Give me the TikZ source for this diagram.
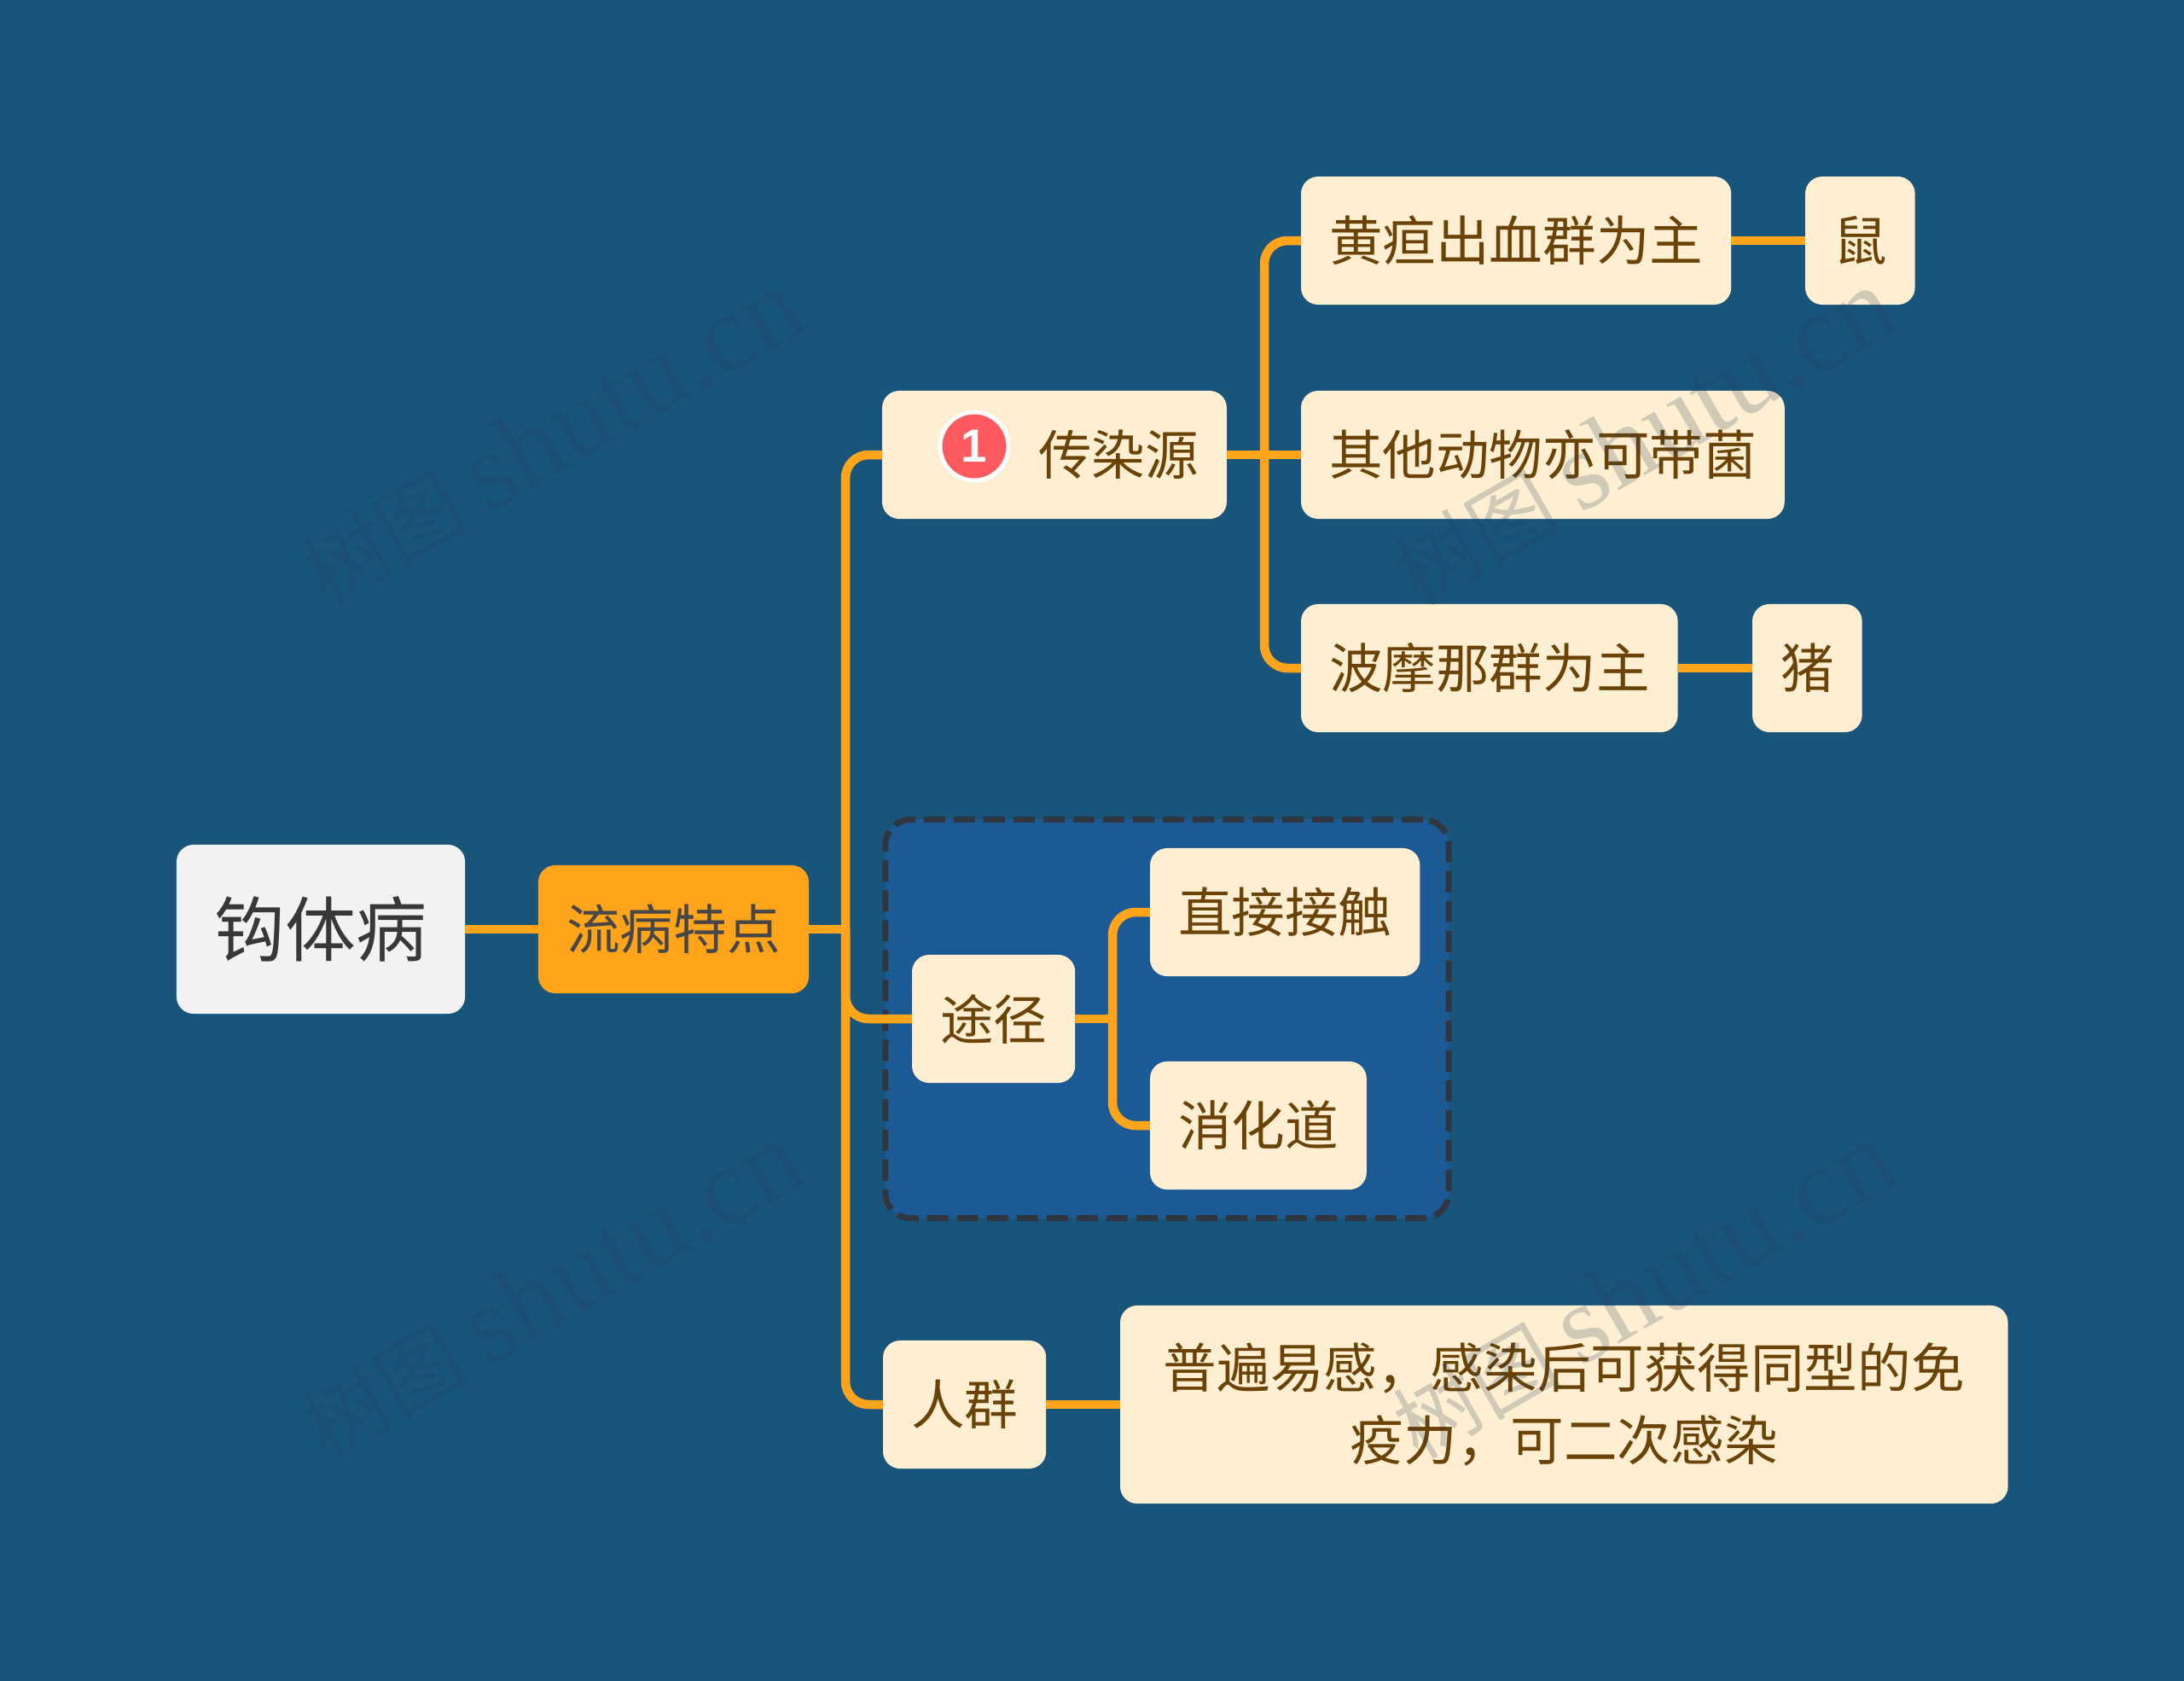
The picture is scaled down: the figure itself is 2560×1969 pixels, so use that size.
\documentclass[tikz,border=0pt]{standalone}
\usepackage{fontspec}
\setmainfont{Noto Sans CJK SC}
\newfontfamily\markfont{Liberation Serif}
\newfontfamily\badgefont{Liberation Sans}
\definecolor{pagebg}{HTML}{19557B}
\definecolor{groupbg}{HTML}{1B5A94}
\definecolor{groupline}{HTML}{2F3640}
\definecolor{leafbg}{HTML}{FEEFD3}
\definecolor{leaftext}{HTML}{6B4307}
\definecolor{linkcol}{HTML}{FFA41B}
\definecolor{rootbg}{HTML}{F2F2F2}
\definecolor{badgecol}{HTML}{FF5A5F}
\definecolor{markcol}{HTML}{1F3550}
\begin{document}
\begin{tikzpicture}[x=0.01cm,y=-0.01cm,
leaf/.style={rectangle,rounded corners=0.2cm,fill=leafbg,text=leaftext,anchor=west,inner xsep=0.33cm,inner ysep=0pt,outer sep=0pt,minimum height=1.5cm,align=center,font=\fontsize{17.8}{24.2}\selectfont},
link/.style={draw=linkcol,line width=0.105cm},
elbow/.style={link,rounded corners=0.27cm},
wmark/.style={rotate=30,text=markcol,opacity=0.2,inner sep=0pt,font=\fontsize{28}{36}\selectfont}]
\useasboundingbox (0,0) rectangle (2560,1969);
\fill[pagebg] (-5,-5) rectangle (2565,1974);
\node[rectangle,rounded corners=0.3cm,fill=groupbg,draw=groupline,line width=0.07cm,dash pattern=on 0.25cm off 0.1cm,outer sep=0pt,inner sep=0pt,minimum width=6.6cm,minimum height=4.67cm] (group) at (1368,1194) {};
\node[rectangle,rounded corners=0.2cm,fill=rootbg,text=black!78,outer sep=0pt,inner sep=0pt,minimum width=3.38cm,minimum height=1.98cm,font=\fontsize{23.6}{28}\selectfont] (root) at (376,1089) {钩体病};
\node[leaf,fill=linkcol,text=black!72,minimum width=3.17cm,inner xsep=0pt,anchor=center] (liubing) at (789.5,1089) {流病特点};
\node[leaf] (chuanran) at (1034,533) {\hspace{1.5cm}传染源};
\node[circle,fill=badgecol,draw=white,line width=0.05cm,inner sep=0pt,minimum size=0.8cm,text=white,font=\badgefont\bfseries\fontsize{15.5}{16}\selectfont] (badge) at (1142,523) {1};
\node[leaf] (huangdan) at (1525,282) {黄疸出血群为主};
\node[leaf] (shu) at (2116,282) {鼠};
\node[leaf] (qita) at (1525,533) {其他动物亦可带菌};
\node[leaf] (bomona) at (1525,783) {波摩那群为主};
\node[leaf] (zhu) at (2054,783) {猪};
\node[leaf] (tujing) at (1069,1194) {途径};
\node[leaf] (zhijie) at (1348,1069) {直接接触};
\node[leaf] (xiaohua) at (1348,1319) {消化道};
\node[leaf] (renqun) at (1035,1646) {人群};
\node[leaf,minimum width=10.4cm,minimum height=2.32cm] (pubian) at (1313,1646) {普遍易感，感染后可获得同型的免\\疫力，可二次感染};
\coordinate (busa) at (991,1089);
\coordinate (busb) at (1482,533);
\coordinate (busc) at (1304,1194);
\draw[link] (root) -- (liubing);
\draw[link] (liubing) -- (busa);
\draw[elbow] (busa) |- (chuanran);
\draw[elbow] (busa) |- (tujing);
\draw[elbow] (busa) |- (renqun);
\draw[link] (chuanran) -- (qita);
\draw[elbow] (busb) |- (huangdan);
\draw[elbow] (busb) |- (bomona);
\draw[link] (huangdan) -- (shu);
\draw[link] (bomona) -- (zhu);
\draw[link] (tujing) -- (busc);
\draw[elbow] (busc) |- (zhijie);
\draw[elbow] (busc) |- (xiaohua);
\draw[link] (renqun) -- (pubian);
\node[wmark] (marka) at (646,512) {树图 {\markfont\fontsize{37}{36}\selectfont shutu.cn}};
\node[wmark] (markb) at (1926,512) {树图 {\markfont\fontsize{37}{36}\selectfont shutu.cn}};
\node[wmark] (markc) at (646,1512) {树图 {\markfont\fontsize{37}{36}\selectfont shutu.cn}};
\node[wmark] (markd) at (1926,1512) {树图 {\markfont\fontsize{37}{36}\selectfont shutu.cn}};
\end{tikzpicture}
\end{document}
